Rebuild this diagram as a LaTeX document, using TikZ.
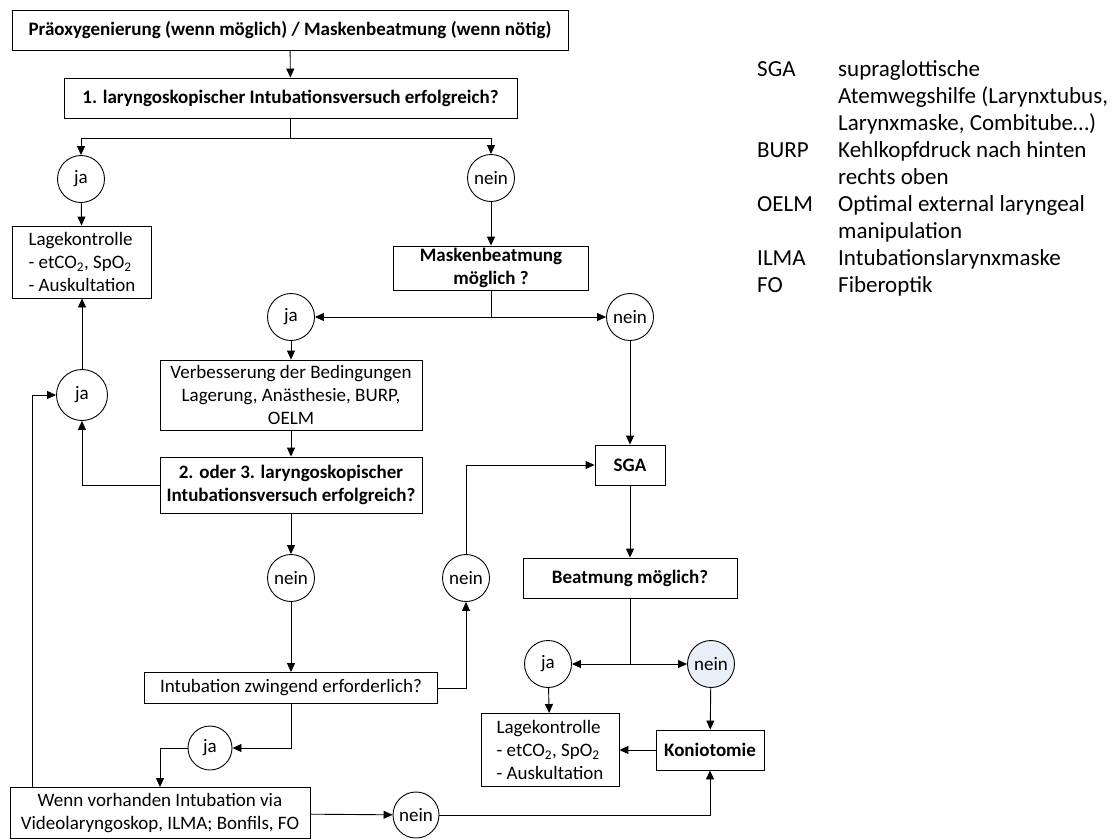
\documentclass[tikz,border=0pt]{standalone}
\usepackage{fontspec}
\setmainfont{Carlito}
\usepackage{xcolor}
\usetikzlibrary{positioning}
\usetikzlibrary{arrows.meta}
\usetikzlibrary{calc}
\definecolor{paleblue}{RGB}{233,238,248}

\begin{document}
\begin{tikzpicture}[
    x=1pt, y=-1pt,
    box/.style={draw, line width=0.9pt, align=center, inner sep=2pt, font=\fontsize{19}{23}\selectfont},
    bbox/.style={box, font=\fontsize{19}{23}\selectfont\bfseries},
    dec/.style={draw, circle, line width=0.9pt, minimum size=47pt, inner sep=0pt, font=\fontsize{19}{23}\selectfont},
    link/.style={line width=0.9pt},
    >={Triangle[length=9pt, width=8pt]}
]
    \useasboundingbox (0,0) rectangle (1113,839);

    % Start
    \node[bbox, minimum width=556pt, minimum height=40pt] (pre) at (290,30) {Präoxygenierung (wenn möglich) / Maskenbeatmung (wenn nötig)};
    \node[bbox, minimum width=453pt, minimum height=40pt] (first) at (290.5,98) {1. laryngoskopischer Intubationsversuch erfolgreich?};

    % First answer
    \node[dec] (ja1) at (81,179) {ja};
    \node[dec] (nein1) at (491,178) {nein};
    \node[box, align=left, minimum width=139pt, minimum height=72pt] (lage1) at (82,262) {Lagekontrolle\\- etCO\textsubscript{2}, SpO\textsubscript{2}\\- Auskultation};
    \node[bbox, minimum width=195pt, minimum height=44pt, inner sep=1pt] (mask) at (491,268) {Maskenbeatmung\\möglich ?};

    % Mask ventilation answer
    \node[dec] (ja3) at (291,317) {ja};
    \node[dec] (nein3) at (630,317) {nein};
    \node[box, minimum width=262pt, minimum height=70pt] (verb) at (291,395) {Verbesserung der Bedingungen\\Lagerung, Anästhesie, BURP,\\OELM};
    \node[bbox, minimum width=262pt, minimum height=56pt] (second) at (291,485) {2. oder 3. laryngoskopischer\\Intubationsversuch erfolgreich?};
    \node[dec, minimum size=51pt] (ja2) at (82,395) {ja};

    % Second answer
    \node[dec] (nein4) at (291,578) {nein};
    \node[dec] (nein5) at (466,578) {nein};
    \node[box, minimum width=293pt, minimum height=31pt] (intub) at (291,688) {Intubation zwingend erforderlich?};
    \node[dec, minimum size=44pt] (ja4) at (210,748) {ja};
    \node[box, minimum width=300pt, minimum height=51pt] (wenn) at (160,813) {Wenn vorhanden Intubation via\\Videolaryngoskop, ILMA; Bonfils, FO};
    \node[dec, minimum size=46pt] (nein6) at (416,815) {nein};

    % SGA branch
    \node[bbox, minimum width=70pt, minimum height=40pt] (sga) at (630,465) {SGA};
    \node[bbox, minimum width=214pt, minimum height=40pt] (beat) at (630,578) {Beatmung möglich?};
    \node[dec] (ja5) at (548,664) {ja};
    \node[dec, fill=paleblue] (nein7) at (711,664) {nein};
    \node[box, align=left, minimum width=138pt, minimum height=73pt] (lage2) at (550,750) {Lagekontrolle\\- etCO\textsubscript{2}, SpO\textsubscript{2}\\- Auskultation};
    \node[bbox, minimum width=108pt, minimum height=40pt] (konio) at (710,750) {Koniotomie};

    % Legend
    \node[anchor=north west, inner sep=0pt, align=left, font=\fontsize{23}{27}\selectfont] (legend) at (757,57) {%
        \begin{tabular}{@{}p{81pt}@{}l@{}}
        SGA & supraglottische\\
            & Atemwegshilfe (Larynxtubus,\\
            & Larynxmaske, Combitube…)\\
        BURP & Kehlkopfdruck nach hinten\\
             & rechts oben\\
        OELM & Optimal external laryngeal\\
             & manipulation\\
        ILMA & Intubationslarynxmaske\\
        FO & Fiberoptik
        \end{tabular}};

    % Branch points
    \coordinate (split1) at (290.5,138);
    \coordinate (split2) at (491,317);
    \coordinate (split3) at (630,664);
    \coordinate (back) at (32,787);

    % Connections
    \draw[link, ->] (pre) -- (first);
    \draw[link] (first) -- (split1);
    \draw[link, ->] (split1) -| (ja1);
    \draw[link, ->] (split1) -| (nein1);
    \draw[link, ->] (ja1) -- (lage1);
    \draw[link, ->] (nein1) -- (mask);
    \draw[link] (mask) -- (split2);
    \draw[link, ->] (split2) -- (ja3);
    \draw[link, ->] (split2) -- (nein3);
    \draw[link, ->] (ja3) -- (verb);
    \draw[link, ->] (verb) -- (second);
    \draw[link, ->] (second.west) -| (ja2);
    \draw[link, ->] (ja2) -- (lage1);
    \draw[link, ->] (back) |- (ja2);
    \draw[link, ->] (second) -- (nein4);
    \draw[link, ->] (nein4) -- (intub);
    \draw[link, ->] (intub.east) -| (nein5);
    \draw[link, ->] (nein5) |- (sga);
    \draw[link, ->] (intub.south) |- (ja4);
    \draw[link, ->] (ja4) -| (wenn);
    \draw[link, ->] (wenn) -- (nein6);
    \draw[link, ->] (nein6) -| (konio);
    \draw[link, ->] (nein3) -- (sga);
    \draw[link, ->] (sga) -- (beat);
    \draw[link] (beat) -- (split3);
    \draw[link, ->] (split3) -- (ja5);
    \draw[link, ->] (split3) -- (nein7);
    \draw[link, ->] (ja5) -- (lage2);
    \draw[link, ->] (nein7) -- (konio);
    \draw[link, ->] (konio) -- (lage2);
\end{tikzpicture}
\end{document}
